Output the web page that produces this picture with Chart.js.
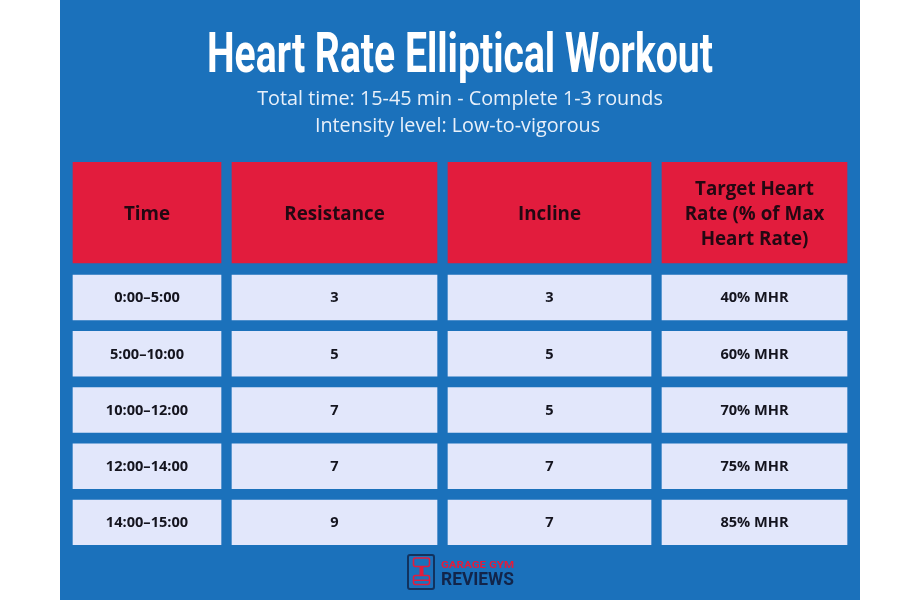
<!DOCTYPE html>
<html><head><meta charset="utf-8">
<script src="https://cdn.jsdelivr.net/npm/chart.js@4/dist/chart.umd.js"></script>
<style>
html,body{margin:0;padding:0;background:#fff;width:920px;height:600px;overflow:hidden}
#panel{position:absolute;left:60px;top:0;width:800px;height:600px;background:#1b71bb}
canvas{display:block}
</style></head><body>
<div id="panel"><canvas id="c" width="800" height="600"></canvas></div>
<script>
const titleText = "Heart Rate Elliptical Workout";
const subtitleLines = ["Total time: 15-45 min - Complete 1-3 rounds", "Intensity level: Low-to-vigorous"];
const headers = ["Time", "Resistance", "Incline", ["Target Heart", "Rate (% of Max", "Heart Rate)"]];
const times = ["0:00–5:00", "5:00–10:00", "10:00–12:00", "12:00–14:00", "14:00–15:00"];
const resistance = [3, 5, 7, 7, 9];
const incline = [3, 5, 5, 7, 7];
const targetHR = [40, 60, 70, 75, 85];
const columnWidths = [148, 205, 203, 185];
const columnGap = 11;

const columns = [times, resistance, incline, targetHR.map(v => v + "% MHR")];
const edges = [];
let cursor = 0;
columnWidths.forEach(w => { edges.push([cursor, cursor + w]); cursor += w + columnGap; });
const HEADER_ROW = -1.511;

const datasets = [];
columns.forEach((col, c) => {
  datasets.push({
    label: "header " + c,
    data: [{ x: edges[c], y: HEADER_ROW }],
    backgroundColor: "#e21c3d", barThickness: 101, grouped: false,
    cellText: [headers[c]], cellFont: "700 18.8px 'Open Sans'", cellColor: "#230812", lineStep: 25, textShift: 2
  });
  datasets.push({
    label: "column " + c,
    data: col.map((_, r) => ({ x: edges[c], y: r })),
    backgroundColor: "#e2e7fb", barThickness: 45, grouped: false,
    cellText: col, cellFont: "700 14.6px 'Open Sans'", cellColor: "#14141e", lineStep: 18, textShift: 0.7
  });
});

function fitText(g, text, x, baseline, width, font, color) {
  g.save();
  g.font = font; g.fillStyle = color; g.textAlign = "left"; g.textBaseline = "alphabetic";
  const k = width / g.measureText(text).width;
  g.translate(x, baseline); g.scale(k, 1);
  g.fillText(text, 0, 0);
  g.restore();
}

const cellTextPlugin = {
  id: "cellText",
  afterDatasetsDraw(chart) {
    const g = chart.ctx;
    g.save();
    g.textAlign = "center"; g.textBaseline = "middle";
    chart.data.datasets.forEach((ds, i) => {
      chart.getDatasetMeta(i).data.forEach((bar, j) => {
        const p = bar.getProps(["x", "y", "base"], true);
        const lines = [].concat(ds.cellText[j]);
        const cx = (p.x + p.base) / 2;
        g.font = ds.cellFont; g.fillStyle = ds.cellColor;
        lines.forEach((t, k) => g.fillText(String(t), cx, p.y + ds.textShift + (k - (lines.length - 1) / 2) * ds.lineStep));
      });
    });
    g.font = "400 19.8px 'Open Sans'"; g.fillStyle = "#e8f0fa";
    g.fillText(subtitleLines[0], 400, 99.5);
    g.fillText(subtitleLines[1], 397.5, 126.5);
    g.restore();
    fitText(g, titleText, 147, 72, 506, "700 55px Roboto", "#ffffff");
  }
};

const logoPlugin = {
  id: "logo",
  afterDraw(chart) {
    const g = chart.ctx;
    const ox = 347;
    g.save();
    g.strokeStyle = "#12325e"; g.lineWidth = 2;
    g.beginPath(); g.roundRect(ox + 1, 555, 26, 34, 2); g.stroke();
    g.strokeStyle = "#e21c3d"; g.lineWidth = 1.6;
    g.beginPath(); g.roundRect(ox + 6.5, 558, 16, 8.5, 2); g.stroke();
    g.beginPath(); g.roundRect(ox + 6.5, 575.5, 16, 9, 2); g.stroke();
    g.fillStyle = "#e21c3d";
    g.fillRect(ox + 12.5, 566, 4, 10);
    g.fillRect(ox + 6, 579.5, 17, 1.5);
    g.restore();
    fitText(g, "GARAGE GYM", ox + 34, 567.5, 73, "700 9.5px Roboto", "#e21c3d");
    fitText(g, "REVIEWS", ox + 34, 585, 73, "700 18px Roboto", "#12254a");
  }
};

function start() {
  new Chart(document.getElementById("c"), {
    type: "bar",
    data: { datasets },
    plugins: [cellTextPlugin, logoPlugin],
    options: {
      indexAxis: "y", responsive: false, animation: false, events: [],
      layout: { padding: { left: 0, right: 0, top: 162, bottom: 55 } },
      scales: {
        x: { type: "linear", display: false, min: -13, max: 787, grid: { display: false } },
        y: { type: "linear", display: false, reverse: true, offset: false, min: -2.409, max: 4.4, grid: { display: false } }
      },
      plugins: {
        legend: { display: false }, tooltip: { enabled: false },
        title: { display: false }, subtitle: { display: false }
      }
    }
  });
}
(document.fonts && document.fonts.load ? Promise.all([
  document.fonts.load("700 17px 'Open Sans'"), document.fonts.load("400 18px 'Open Sans'"), document.fonts.load("700 50px Roboto")
]).catch(()=>{}) : Promise.resolve()).then(start);
</script>
</body></html>
